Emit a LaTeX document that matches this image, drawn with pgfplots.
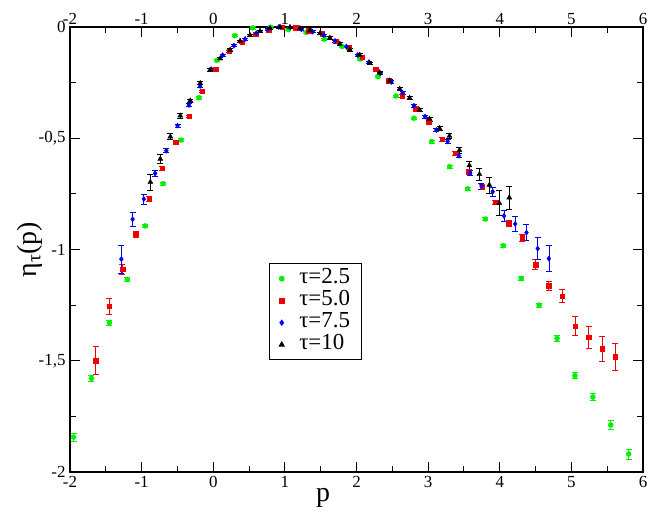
\documentclass[border=0pt]{standalone}
\usepackage{fontspec}
\setmainfont{Liberation Serif}
\usepackage{pgfplots}
\pgfplotsset{compat=1.18}
\definecolor{ggreen}{RGB}{0,240,0}
\definecolor{gred}{RGB}{240,0,0}
\definecolor{gblue}{RGB}{0,0,240}

\pgfplotstableread{
x y e
-1.95 -1.843 0.018
-1.70 -1.579 0.015
-1.45 -1.329 0.011
-1.20 -1.134 0.009
-0.95 -0.894 0.008
-0.70 -0.704 0.007
-0.45 -0.508 0.006
-0.20 -0.318 0.005
0.05 -0.150 0.005
0.30 -0.039 0.005
0.55 -0.004 0.005
0.80 -0.001 0.005
1.05 -0.012 0.005
1.30 -0.024 0.005
1.55 -0.055 0.005
1.80 -0.088 0.005
2.05 -0.144 0.005
2.30 -0.223 0.005
2.55 -0.310 0.005
2.80 -0.410 0.005
3.05 -0.515 0.006
3.30 -0.628 0.006
3.55 -0.727 0.007
3.80 -0.863 0.007
4.05 -0.983 0.008
4.30 -1.130 0.009
4.55 -1.250 0.010
4.80 -1.400 0.012
5.05 -1.567 0.014
5.30 -1.663 0.017
5.55 -1.789 0.020
5.80 -1.919 0.022
}\tabgreen

\pgfplotstableread{
x y e
-1.640 -1.500 0.063
-1.454 -1.255 0.036
-1.268 -1.088 0.022
-1.082 -0.933 0.013
-0.896 -0.772 0.010
-0.710 -0.635 0.008
-0.524 -0.518 0.007
-0.338 -0.401 0.006
-0.152 -0.288 0.005
0.034 -0.190 0.005
0.220 -0.108 0.004
0.406 -0.069 0.004
0.592 -0.033 0.004
0.778 -0.013 0.004
0.964 -0.001 0.004
1.150 -0.002 0.004
1.336 -0.016 0.004
1.522 -0.031 0.004
1.708 -0.063 0.004
1.894 -0.090 0.004
2.080 -0.136 0.005
2.266 -0.189 0.005
2.452 -0.241 0.005
2.638 -0.309 0.006
2.824 -0.368 0.006
3.010 -0.425 0.007
3.196 -0.505 0.007
3.382 -0.568 0.008
3.568 -0.650 0.009
3.754 -0.718 0.010
3.940 -0.788 0.011
4.126 -0.884 0.013
4.312 -0.947 0.015
4.498 -1.067 0.022
4.684 -1.163 0.022
4.870 -1.209 0.030
5.056 -1.344 0.043
5.242 -1.395 0.049
5.428 -1.447 0.056
5.614 -1.482 0.060
}\tabred

\pgfplotstableread{
x y e
-1.283 -1.043 0.062
-1.126 -0.864 0.032
-0.969 -0.773 0.022
-0.812 -0.658 0.013
-0.655 -0.556 0.009
-0.498 -0.443 0.007
-0.340 -0.351 0.006
-0.183 -0.265 0.005
-0.026 -0.190 0.005
0.131 -0.127 0.004
0.288 -0.084 0.004
0.445 -0.054 0.004
0.602 -0.028 0.004
0.759 -0.011 0.004
0.916 0.000 0.004
1.074 -0.002 0.004
1.231 -0.011 0.004
1.388 -0.021 0.004
1.545 -0.036 0.004
1.702 -0.063 0.004
1.859 -0.088 0.004
2.016 -0.126 0.005
2.173 -0.158 0.005
2.330 -0.208 0.005
2.487 -0.247 0.005
2.644 -0.296 0.006
2.801 -0.354 0.006
2.958 -0.403 0.007
3.115 -0.463 0.008
3.272 -0.514 0.009
3.429 -0.578 0.010
3.587 -0.655 0.012
3.745 -0.715 0.014
3.902 -0.740 0.020
4.059 -0.849 0.026
4.216 -0.885 0.034
4.373 -0.924 0.037
4.530 -0.996 0.050
4.686 -1.041 0.058
}\tabblue

\pgfplotstableread{
x y e
-0.878 -0.697 0.035
-0.739 -0.593 0.022
-0.599 -0.493 0.013
-0.460 -0.399 0.010
-0.321 -0.331 0.008
-0.182 -0.253 0.007
-0.043 -0.193 0.006
0.096 -0.142 0.005
0.236 -0.103 0.005
0.375 -0.063 0.005
0.514 -0.037 0.005
0.653 -0.018 0.005
0.792 -0.006 0.005
0.932 0.000 0.005
1.071 -0.001 0.005
1.210 -0.006 0.005
1.349 -0.016 0.005
1.489 -0.029 0.005
1.628 -0.049 0.005
1.767 -0.076 0.005
1.906 -0.102 0.006
2.045 -0.126 0.006
2.185 -0.163 0.006
2.324 -0.205 0.006
2.463 -0.241 0.007
2.602 -0.278 0.007
2.741 -0.319 0.008
2.881 -0.373 0.008
3.020 -0.413 0.009
3.159 -0.455 0.010
3.298 -0.490 0.012
3.437 -0.554 0.014
3.576 -0.622 0.020
3.716 -0.662 0.028
3.855 -0.710 0.036
3.994 -0.792 0.056
4.133 -0.767 0.051
}\tabblack

\begin{document}
\begin{tikzpicture}
\pgfplotsset{
  frame/.style={
    scale only axis, width=573bp, height=445bp,
    xmin=-2, xmax=6, ymin=-2, ymax=0,
    axis line style={line width=1.1bp},
    tick style={line width=0.9bp, black},
    major tick length=10bp, minor tick length=6bp,
    tick align=inside,
    /pgf/number format/assume math mode=true,
    /pgf/number format/use comma,
    ticklabel style={font=\fontsize{17}{20}\selectfont},
  },
  ebar/.style={error bars/.cd, y dir=both, y explicit,
    error bar style={line width=0.7bp, #1},
    error mark options={rotate=90, mark size=3bp, line width=0.7bp, #1}},
}
\begin{axis}[frame,
  xtick={-2,...,6}, ytick={-2,-1.5,...,0},
  minor x tick num=1, minor y tick num=1,
  xtick pos=both, ytick pos=both,
  xticklabel pos=lower, yticklabel pos=left,
  xticklabel style={yshift=-1bp},
  yticklabel style={xshift=-1bp},
  xlabel={p}, ylabel={η\textsubscript{τ}(p)},
  xlabel style={font=\fontsize{28}{30}\selectfont, at={(axis description cs:0.4415,-0.067)}, anchor=base},
  ylabel style={font=\fontsize{28}{30}\selectfont, at={(axis description cs:-0.07,0.5)}, anchor=center, rotate=0},
  legend style={at={(axis description cs:0.347,0.469)}, anchor=north west,
    font=\fontsize{23}{25}\selectfont, draw=black, line width=0.8bp,
    inner xsep=10bp, inner ysep=4bp, row sep=0bp, cells={anchor=west},
    nodes={inner sep=1bp, text height=15bp, text depth=5bp},
    /tikz/every odd column/.append style={column sep=14bp}},
  legend cell align=left,
]
\addplot[only marks, mark=*, mark size=2.5bp, color=ggreen, ebar=ggreen]
  table[x=x, y=y, y error=e] {\tabgreen};
\addlegendentry{τ=2.5}
\addplot[only marks, mark=square*, mark size=2.3bp, color=gred, ebar=gred]
  table[x=x, y=y, y error=e] {\tabred};
\addlegendentry{τ=5.0}
\addplot[only marks, mark=diamond*, mark size=2.6bp, color=gblue, ebar=gblue]
  table[x=x, y=y, y error=e] {\tabblue};
\addlegendentry{τ=7.5}
\addplot[only marks, mark=triangle*, mark size=2.9bp, color=black, ebar=black]
  table[x=x, y=y, y error=e] {\tabblack};
\addlegendentry{τ=10}
\end{axis}
\begin{axis}[frame,
  axis line style={draw=none},
  xtick={-2,...,6}, ytick=\empty,
  xtick style={draw=none},
  xticklabel pos=upper,
  xticklabel style={yshift=-1bp},
]
\end{axis}
\pgfresetboundingbox
\path (-70bp,-42bp) rectangle (587bp,472bp);
\end{tikzpicture}
\end{document}
